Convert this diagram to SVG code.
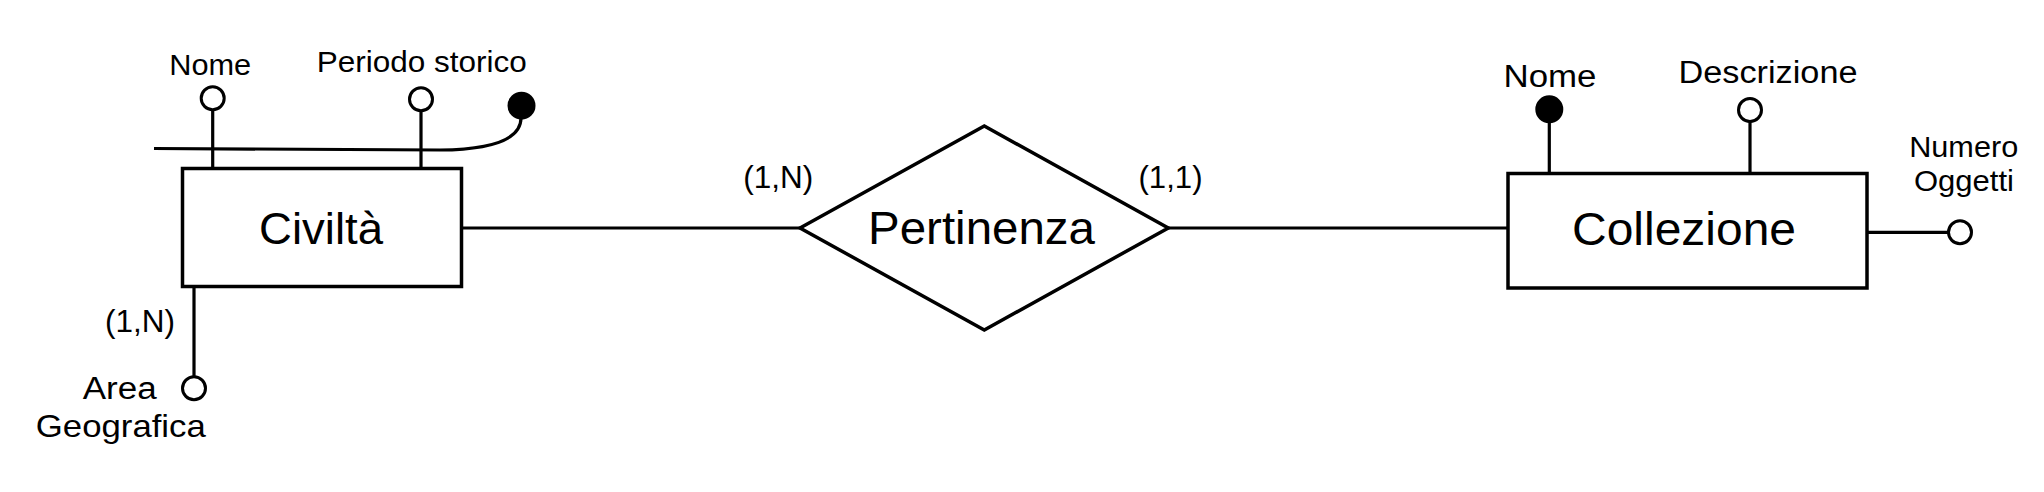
<svg xmlns="http://www.w3.org/2000/svg" width="2044" height="492" viewBox="0 0 2044 492">
<style>
.bg{fill:#ffffff}
.shape{fill:#ffffff;stroke:#000000;stroke-width:3.5}
.ln{fill:none;stroke:#000000;stroke-width:3.2}
.att{fill:#ffffff;stroke:#000000;stroke-width:3}
.key{fill:#000000;stroke:#000000;stroke-width:3}
text{font-family:"Liberation Sans",Arial,sans-serif;fill:#000000;text-anchor:middle}
</style>
<rect class="bg" x="0" y="0" width="2044" height="492"/>
<g id="connectors">
  <line class="ln" x1="461.5" y1="228" x2="800" y2="228"/>
  <line class="ln" x1="1168" y1="228" x2="1508" y2="228"/>
  <line class="ln" x1="212.7" y1="110" x2="212.7" y2="168.5"/>
  <line class="ln" x1="421" y1="111" x2="421" y2="168.5"/>
  <path class="ln" d="M154 148.5 L440 150 Q521 149 521 118"/>
  <line class="ln" x1="194" y1="286.5" x2="194" y2="376.5"/>
  <line class="ln" x1="1549.3" y1="120" x2="1549.3" y2="173.5"/>
  <line class="ln" x1="1750" y1="122" x2="1750" y2="173.5"/>
  <line class="ln" x1="1866.8" y1="232.3" x2="1948" y2="232.3"/>
</g>
<g id="civilta">
  <rect class="shape" x="182.5" y="168.5" width="279" height="118"/>
  <text x="321" y="244" font-size="44" textLength="124" lengthAdjust="spacingAndGlyphs">Civiltà</text>
</g>
<g id="pertinenza">
  <polygon class="shape" points="800,228 984.3,126 1168.3,228 984.3,330"/>
  <text x="981.5" y="244" font-size="47" textLength="227" lengthAdjust="spacingAndGlyphs">Pertinenza</text>
</g>
<g id="collezione">
  <rect class="shape" x="1508" y="173.5" width="359" height="114.5"/>
  <text x="1684" y="245" font-size="46" textLength="224" lengthAdjust="spacingAndGlyphs">Collezione</text>
</g>
<g id="civilta-nome">
  <circle class="att" cx="212.7" cy="98.3" r="11.5"/>
  <text x="210.2" y="75" font-size="29" textLength="82" lengthAdjust="spacingAndGlyphs">Nome</text>
</g>
<g id="civilta-periodo">
  <circle class="att" cx="421" cy="99.3" r="11.5"/>
  <text x="421.7" y="71.7" font-size="30" textLength="210" lengthAdjust="spacingAndGlyphs">Periodo storico</text>
</g>
<g id="civilta-identificatore">
  <circle class="key" cx="521.5" cy="105.7" r="12.5"/>
</g>
<g id="civilta-area">
  <circle class="att" cx="194" cy="388.3" r="11.5"/>
  <text x="140" y="331.7" font-size="31" textLength="70" lengthAdjust="spacingAndGlyphs">(1,N)</text>
  <text x="119.7" y="399.3" font-size="31" textLength="74" lengthAdjust="spacingAndGlyphs">Area</text>
  <text x="120.8" y="436.7" font-size="32" textLength="170" lengthAdjust="spacingAndGlyphs">Geografica</text>
</g>
<g id="card-civilta">
  <text x="778.3" y="188" font-size="31" textLength="70" lengthAdjust="spacingAndGlyphs">(1,N)</text>
</g>
<g id="card-collezione">
  <text x="1170.5" y="188" font-size="31" textLength="64" lengthAdjust="spacingAndGlyphs">(1,1)</text>
</g>
<g id="collezione-nome">
  <circle class="key" cx="1549.3" cy="109.3" r="12.5"/>
  <text x="1550" y="86.7" font-size="31" textLength="93" lengthAdjust="spacingAndGlyphs">Nome</text>
</g>
<g id="collezione-descrizione">
  <circle class="att" cx="1750" cy="110" r="11.5"/>
  <text x="1768" y="83.3" font-size="31" textLength="179" lengthAdjust="spacingAndGlyphs">Descrizione</text>
</g>
<g id="collezione-numero">
  <circle class="att" cx="1960" cy="232.3" r="11.5"/>
  <text x="1963.7" y="156.7" font-size="30" textLength="109" lengthAdjust="spacingAndGlyphs">Numero</text>
  <text x="1964" y="191" font-size="30" textLength="100" lengthAdjust="spacingAndGlyphs">Oggetti</text>
</g>
</svg>
